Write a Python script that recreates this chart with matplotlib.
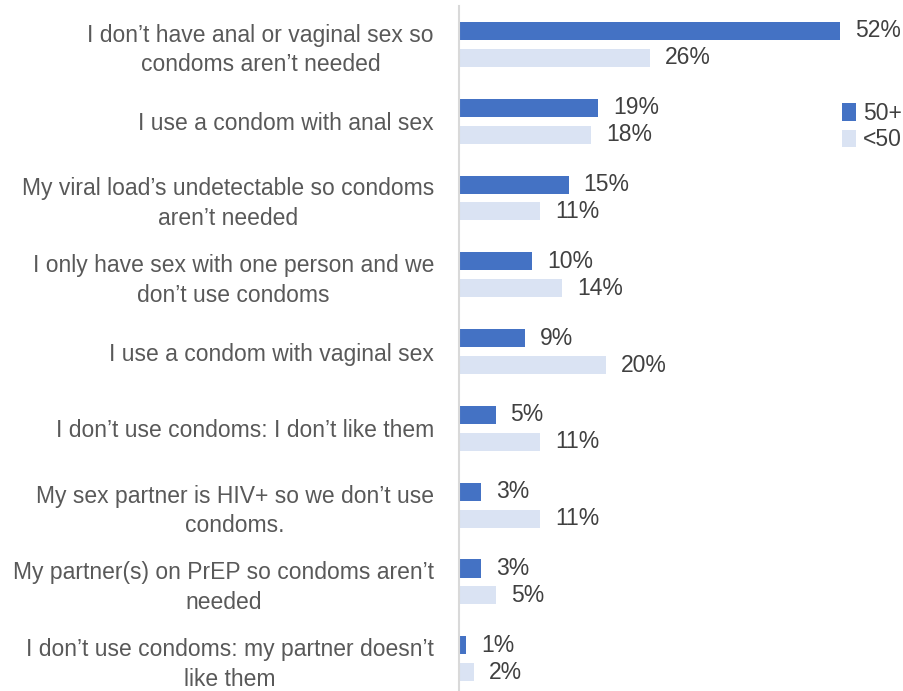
import matplotlib.pyplot as plt
from matplotlib import font_manager

categories = [
    "I don\u2019t have anal or vaginal sex so\ncondoms aren\u2019t needed",
    "I use a condom with anal sex",
    "My viral load\u2019s undetectable so condoms\naren\u2019t needed",
    "I only have sex with one person and we\ndon\u2019t use condoms",
    "I use a condom with vaginal sex",
    "I don\u2019t use condoms: I don\u2019t like them",
    "My sex partner is HIV+ so we don\u2019t use\ncondoms.",
    "My partner(s) on PrEP so condoms aren\u2019t\nneeded",
    "I don\u2019t use condoms: my partner doesn\u2019t\nlike them",
]
over50 = [52, 19, 15, 10, 9, 5, 3, 3, 1]
under50 = [26, 18, 11, 14, 20, 11, 11, 5, 2]
series_names = ["50+", "<50"]

# fuente estrecha tipo Arial Narrow si existe
nombres = {f.name for f in font_manager.fontManager.ttflist}
if "Liberation Sans Narrow" in nombres:
    fuente, fs = "Liberation Sans Narrow", 18
else:
    fuente, fs = "Liberation Sans", 16.5
plt.rcParams["font.family"] = [fuente, "DejaVu Sans"]

dark = "#4472C4"
light = "#DAE3F3"
txt = "#404040"

fig = plt.figure(figsize=(9.04, 6.91), dpi=100)
ax = fig.add_axes([459 / 904, 0.0, 440 / 904, 685 / 691])

n = len(categories)
ypos = [n - 1 - i for i in range(n)]
off = 0.175
h = 0.235

ax.barh([y + off for y in ypos], over50, height=h, color=dark, label=series_names[0])
ax.barh([y - off for y in ypos], under50, height=h, color=light, label=series_names[1])

for y, v in zip(ypos, over50):
    ax.text(v + 2.0, y + off, f"{v}%", va="center", ha="left", fontsize=fs, color=txt)
for y, v in zip(ypos, under50):
    ax.text(v + 2.1, y - off, f"{v}%", va="center", ha="left", fontsize=fs, color=txt)

ax.set_xlim(0, 60)
ax.set_ylim(-0.42, n - 0.5)
ax.set_yticks(ypos)
ax.set_yticklabels(categories, fontsize=fs, color="#595959", multialignment="center",
                   linespacing=1.35)
ax.tick_params(axis="y", length=0, pad=18)
ax.set_xticks([])
for s in ["top", "right", "bottom"]:
    ax.spines[s].set_visible(False)
ax.spines["left"].set_color("#D9D9D9")
ax.spines["left"].set_linewidth(1.5)

leg = ax.legend(loc="upper left", bbox_to_anchor=(383 / 440, 0.86), frameon=False,
                fontsize=fs, handlelength=0.6, handleheight=0.8, handletextpad=0.3,
                labelspacing=0.15, borderaxespad=0, borderpad=0)
for t in leg.get_texts():
    t.set_color(txt)

fig.savefig("out.png", dpi=100)
